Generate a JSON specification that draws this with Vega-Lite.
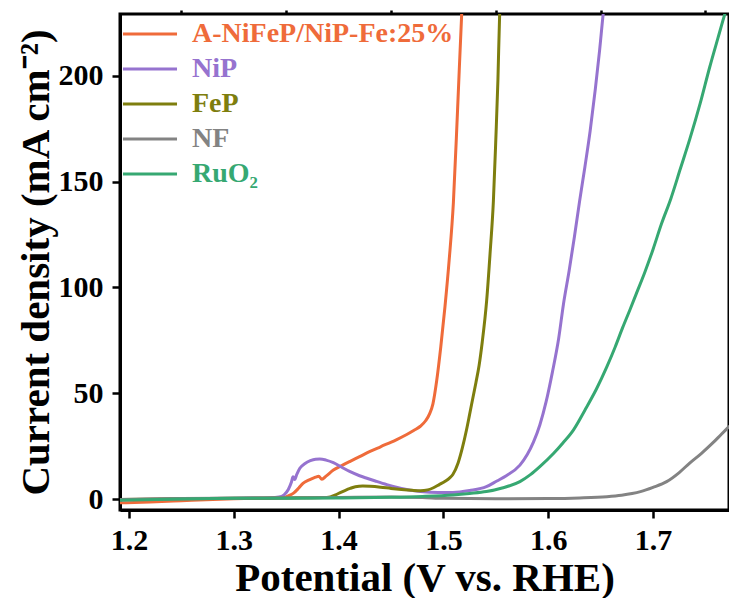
{
  "$schema": "https://vega.github.io/schema/vega-lite/v6.json",
  "width": 609,
  "height": 496,
  "autosize": "none",
  "padding": {"left": 120, "top": 14, "right": 0, "bottom": 88},
  "background": "white",
  "config": {
    "view": {"stroke": "black", "strokeWidth": 3},
    "font": "Liberation Serif"
  },
  "data": {
    "values": [
      {"sample": "A-NiFeP/NiP-Fe:25%", "V": 1.191, "J": -1.8},
      {"sample": "A-NiFeP/NiP-Fe:25%", "V": 1.22, "J": -1.4},
      {"sample": "A-NiFeP/NiP-Fe:25%", "V": 1.25, "J": -0.8},
      {"sample": "A-NiFeP/NiP-Fe:25%", "V": 1.28, "J": -0.2},
      {"sample": "A-NiFeP/NiP-Fe:25%", "V": 1.30, "J": 0.1},
      {"sample": "A-NiFeP/NiP-Fe:25%", "V": 1.32, "J": 0.3},
      {"sample": "A-NiFeP/NiP-Fe:25%", "V": 1.34, "J": 0.5},
      {"sample": "A-NiFeP/NiP-Fe:25%", "V": 1.348, "J": 0.7},
      {"sample": "A-NiFeP/NiP-Fe:25%", "V": 1.352, "J": 1.5},
      {"sample": "A-NiFeP/NiP-Fe:25%", "V": 1.357, "J": 2.8},
      {"sample": "A-NiFeP/NiP-Fe:25%", "V": 1.362, "J": 5.2},
      {"sample": "A-NiFeP/NiP-Fe:25%", "V": 1.366, "J": 7.4},
      {"sample": "A-NiFeP/NiP-Fe:25%", "V": 1.372, "J": 9.0},
      {"sample": "A-NiFeP/NiP-Fe:25%", "V": 1.378, "J": 10.3},
      {"sample": "A-NiFeP/NiP-Fe:25%", "V": 1.381, "J": 10.8},
      {"sample": "A-NiFeP/NiP-Fe:25%", "V": 1.384, "J": 9.3},
      {"sample": "A-NiFeP/NiP-Fe:25%", "V": 1.388, "J": 10.8},
      {"sample": "A-NiFeP/NiP-Fe:25%", "V": 1.395, "J": 13.7},
      {"sample": "A-NiFeP/NiP-Fe:25%", "V": 1.403, "J": 15.8},
      {"sample": "A-NiFeP/NiP-Fe:25%", "V": 1.411, "J": 17.8},
      {"sample": "A-NiFeP/NiP-Fe:25%", "V": 1.42, "J": 20.0},
      {"sample": "A-NiFeP/NiP-Fe:25%", "V": 1.43, "J": 22.5},
      {"sample": "A-NiFeP/NiP-Fe:25%", "V": 1.44, "J": 24.7},
      {"sample": "A-NiFeP/NiP-Fe:25%", "V": 1.455, "J": 28.0},
      {"sample": "A-NiFeP/NiP-Fe:25%", "V": 1.465, "J": 30.5},
      {"sample": "A-NiFeP/NiP-Fe:25%", "V": 1.472, "J": 32.5},
      {"sample": "A-NiFeP/NiP-Fe:25%", "V": 1.478, "J": 34.4},
      {"sample": "A-NiFeP/NiP-Fe:25%", "V": 1.483, "J": 37.0},
      {"sample": "A-NiFeP/NiP-Fe:25%", "V": 1.487, "J": 40.5},
      {"sample": "A-NiFeP/NiP-Fe:25%", "V": 1.490, "J": 45.0},
      {"sample": "A-NiFeP/NiP-Fe:25%", "V": 1.4936, "J": 56.0},
      {"sample": "A-NiFeP/NiP-Fe:25%", "V": 1.4975, "J": 72.0},
      {"sample": "A-NiFeP/NiP-Fe:25%", "V": 1.5015, "J": 91.0},
      {"sample": "A-NiFeP/NiP-Fe:25%", "V": 1.5055, "J": 113.0},
      {"sample": "A-NiFeP/NiP-Fe:25%", "V": 1.5095, "J": 140.0},
      {"sample": "A-NiFeP/NiP-Fe:25%", "V": 1.5135, "J": 184.0},
      {"sample": "A-NiFeP/NiP-Fe:25%", "V": 1.5175, "J": 230.0},
      {"sample": "A-NiFeP/NiP-Fe:25%", "V": 1.519, "J": 245.0},

      {"sample": "NiP", "V": 1.191, "J": -0.3},
      {"sample": "NiP", "V": 1.25, "J": 0.1},
      {"sample": "NiP", "V": 1.30, "J": 0.4},
      {"sample": "NiP", "V": 1.335, "J": 0.6},
      {"sample": "NiP", "V": 1.343, "J": 0.9},
      {"sample": "NiP", "V": 1.348, "J": 2.0},
      {"sample": "NiP", "V": 1.352, "J": 4.5},
      {"sample": "NiP", "V": 1.355, "J": 8.0},
      {"sample": "NiP", "V": 1.3565, "J": 10.5},
      {"sample": "NiP", "V": 1.358, "J": 9.2},
      {"sample": "NiP", "V": 1.360, "J": 11.5},
      {"sample": "NiP", "V": 1.363, "J": 14.5},
      {"sample": "NiP", "V": 1.368, "J": 16.8},
      {"sample": "NiP", "V": 1.373, "J": 18.1},
      {"sample": "NiP", "V": 1.378, "J": 18.8},
      {"sample": "NiP", "V": 1.382, "J": 18.9},
      {"sample": "NiP", "V": 1.388, "J": 18.4},
      {"sample": "NiP", "V": 1.395, "J": 17.2},
      {"sample": "NiP", "V": 1.403, "J": 15.0},
      {"sample": "NiP", "V": 1.411, "J": 12.9},
      {"sample": "NiP", "V": 1.42, "J": 11.0},
      {"sample": "NiP", "V": 1.427, "J": 9.8},
      {"sample": "NiP", "V": 1.435, "J": 8.5},
      {"sample": "NiP", "V": 1.446, "J": 6.8},
      {"sample": "NiP", "V": 1.46, "J": 5.0},
      {"sample": "NiP", "V": 1.478, "J": 3.6},
      {"sample": "NiP", "V": 1.495, "J": 3.1},
      {"sample": "NiP", "V": 1.509, "J": 3.1},
      {"sample": "NiP", "V": 1.525, "J": 4.0},
      {"sample": "NiP", "V": 1.541, "J": 5.8},
      {"sample": "NiP", "V": 1.551, "J": 8.5},
      {"sample": "NiP", "V": 1.56, "J": 11.0},
      {"sample": "NiP", "V": 1.573, "J": 16.0},
      {"sample": "NiP", "V": 1.58, "J": 21.0},
      {"sample": "NiP", "V": 1.586, "J": 27.0},
      {"sample": "NiP", "V": 1.592, "J": 35.0},
      {"sample": "NiP", "V": 1.598, "J": 46.0},
      {"sample": "NiP", "V": 1.604, "J": 60.0},
      {"sample": "NiP", "V": 1.61, "J": 76.0},
      {"sample": "NiP", "V": 1.6145, "J": 92.0},
      {"sample": "NiP", "V": 1.62, "J": 108.0},
      {"sample": "NiP", "V": 1.625, "J": 124.0},
      {"sample": "NiP", "V": 1.63, "J": 141.0},
      {"sample": "NiP", "V": 1.635, "J": 157.0},
      {"sample": "NiP", "V": 1.64, "J": 174.0},
      {"sample": "NiP", "V": 1.645, "J": 194.0},
      {"sample": "NiP", "V": 1.649, "J": 212.0},
      {"sample": "NiP", "V": 1.6526, "J": 230.0},
      {"sample": "NiP", "V": 1.655, "J": 240.0},

      {"sample": "FeP", "V": 1.191, "J": -0.3},
      {"sample": "FeP", "V": 1.25, "J": 0.1},
      {"sample": "FeP", "V": 1.30, "J": 0.3},
      {"sample": "FeP", "V": 1.35, "J": 0.5},
      {"sample": "FeP", "V": 1.385, "J": 0.7},
      {"sample": "FeP", "V": 1.392, "J": 1.0},
      {"sample": "FeP", "V": 1.397, "J": 1.9},
      {"sample": "FeP", "V": 1.401, "J": 2.9},
      {"sample": "FeP", "V": 1.406, "J": 4.0},
      {"sample": "FeP", "V": 1.411, "J": 5.0},
      {"sample": "FeP", "V": 1.416, "J": 5.8},
      {"sample": "FeP", "V": 1.423, "J": 6.1},
      {"sample": "FeP", "V": 1.43, "J": 6.0},
      {"sample": "FeP", "V": 1.44, "J": 5.6},
      {"sample": "FeP", "V": 1.45, "J": 5.0},
      {"sample": "FeP", "V": 1.46, "J": 4.5},
      {"sample": "FeP", "V": 1.47, "J": 4.1},
      {"sample": "FeP", "V": 1.478, "J": 3.9},
      {"sample": "FeP", "V": 1.485, "J": 4.3},
      {"sample": "FeP", "V": 1.49, "J": 5.2},
      {"sample": "FeP", "V": 1.496, "J": 6.8},
      {"sample": "FeP", "V": 1.502, "J": 8.5},
      {"sample": "FeP", "V": 1.506, "J": 10.0},
      {"sample": "FeP", "V": 1.509, "J": 11.6},
      {"sample": "FeP", "V": 1.514, "J": 17.0},
      {"sample": "FeP", "V": 1.518, "J": 24.0},
      {"sample": "FeP", "V": 1.522, "J": 32.6},
      {"sample": "FeP", "V": 1.525, "J": 40.0},
      {"sample": "FeP", "V": 1.528, "J": 47.5},
      {"sample": "FeP", "V": 1.531, "J": 55.0},
      {"sample": "FeP", "V": 1.534, "J": 63.0},
      {"sample": "FeP", "V": 1.537, "J": 74.0},
      {"sample": "FeP", "V": 1.5413, "J": 94.0},
      {"sample": "FeP", "V": 1.5445, "J": 116.0},
      {"sample": "FeP", "V": 1.5477, "J": 141.0},
      {"sample": "FeP", "V": 1.550, "J": 170.0},
      {"sample": "FeP", "V": 1.552, "J": 198.0},
      {"sample": "FeP", "V": 1.5537, "J": 230.0},
      {"sample": "FeP", "V": 1.555, "J": 240.0},

      {"sample": "NF", "V": 1.191, "J": -0.2},
      {"sample": "NF", "V": 1.25, "J": 0.2},
      {"sample": "NF", "V": 1.30, "J": 0.4},
      {"sample": "NF", "V": 1.35, "J": 0.5},
      {"sample": "NF", "V": 1.40, "J": 0.7},
      {"sample": "NF", "V": 1.45, "J": 0.9},
      {"sample": "NF", "V": 1.48, "J": 0.7},
      {"sample": "NF", "V": 1.50, "J": 0.3},
      {"sample": "NF", "V": 1.55, "J": 0.1},
      {"sample": "NF", "V": 1.60, "J": 0.2},
      {"sample": "NF", "V": 1.63, "J": 0.5},
      {"sample": "NF", "V": 1.656, "J": 1.1},
      {"sample": "NF", "V": 1.67, "J": 1.8},
      {"sample": "NF", "V": 1.68, "J": 2.6},
      {"sample": "NF", "V": 1.688, "J": 3.5},
      {"sample": "NF", "V": 1.70, "J": 5.5},
      {"sample": "NF", "V": 1.713, "J": 8.2},
      {"sample": "NF", "V": 1.725, "J": 12.5},
      {"sample": "NF", "V": 1.735, "J": 17.0},
      {"sample": "NF", "V": 1.746, "J": 21.5},
      {"sample": "NF", "V": 1.757, "J": 26.5},
      {"sample": "NF", "V": 1.765, "J": 30.5},
      {"sample": "NF", "V": 1.773, "J": 34.5},

      {"sample": "RuO₂", "V": 1.191, "J": -0.6},
      {"sample": "RuO₂", "V": 1.25, "J": 0.0},
      {"sample": "RuO₂", "V": 1.30, "J": 0.3},
      {"sample": "RuO₂", "V": 1.35, "J": 0.4},
      {"sample": "RuO₂", "V": 1.40, "J": 0.5},
      {"sample": "RuO₂", "V": 1.45, "J": 0.8},
      {"sample": "RuO₂", "V": 1.48, "J": 1.2},
      {"sample": "RuO₂", "V": 1.509, "J": 1.9},
      {"sample": "RuO₂", "V": 1.525, "J": 2.6},
      {"sample": "RuO₂", "V": 1.541, "J": 3.5},
      {"sample": "RuO₂", "V": 1.556, "J": 5.2},
      {"sample": "RuO₂", "V": 1.573, "J": 8.2},
      {"sample": "RuO₂", "V": 1.583, "J": 11.5},
      {"sample": "RuO₂", "V": 1.592, "J": 15.3},
      {"sample": "RuO₂", "V": 1.605, "J": 21.5},
      {"sample": "RuO₂", "V": 1.614, "J": 26.5},
      {"sample": "RuO₂", "V": 1.624, "J": 32.6},
      {"sample": "RuO₂", "V": 1.635, "J": 42.0},
      {"sample": "RuO₂", "V": 1.646, "J": 52.0},
      {"sample": "RuO₂", "V": 1.656, "J": 62.6},
      {"sample": "RuO₂", "V": 1.664, "J": 72.0},
      {"sample": "RuO₂", "V": 1.671, "J": 81.0},
      {"sample": "RuO₂", "V": 1.678, "J": 89.5},
      {"sample": "RuO₂", "V": 1.684, "J": 97.0},
      {"sample": "RuO₂", "V": 1.692, "J": 107.0},
      {"sample": "RuO₂", "V": 1.700, "J": 118.0},
      {"sample": "RuO₂", "V": 1.708, "J": 130.0},
      {"sample": "RuO₂", "V": 1.717, "J": 142.0},
      {"sample": "RuO₂", "V": 1.726, "J": 156.0},
      {"sample": "RuO₂", "V": 1.735, "J": 170.0},
      {"sample": "RuO₂", "V": 1.745, "J": 187.0},
      {"sample": "RuO₂", "V": 1.754, "J": 204.0},
      {"sample": "RuO₂", "V": 1.762, "J": 218.0},
      {"sample": "RuO₂", "V": 1.769, "J": 230.0},
      {"sample": "RuO₂", "V": 1.773, "J": 236.0}
    ]
  },
  "layer": [
    {
      "mark": {"type": "line", "strokeWidth": 3, "clip": true, "interpolate": "monotone"},
      "encoding": {
        "x": {
          "field": "V", "type": "quantitative",
          "scale": {"domain": [1.1914, 1.7725], "nice": false, "zero": false},
          "axis": {
            "values": [1.2, 1.3, 1.4, 1.5, 1.6, 1.7], "format": ".1f",
            "title": "Potential (V vs. RHE)", "grid": false,
            "tickSize": 8, "tickWidth": 2.5, "tickColor": "black",
            "domainWidth": 3, "domainColor": "black",
            "labelFont": "Liberation Serif", "labelFontWeight": "bold", "labelFontSize": 30,
            "labelColor": "black", "labelPadding": 7, "labelFlush": false,
            "titleFont": "Liberation Serif", "titleFontWeight": "bold", "titleFontSize": 41,
            "titleColor": "black", "titleX": 304.5, "titleY": 80, "titleBaseline": "alphabetic"
          }
        },
        "y": {
          "field": "J", "type": "quantitative",
          "scale": {"domain": [-5.2, 229.3], "nice": false, "zero": false},
          "axis": {
            "values": [0, 50, 100, 150, 200],
            "title": "Current density (mA cm⁻²)", "grid": false,
            "tickSize": 8, "tickWidth": 2.5, "tickColor": "black",
            "domainWidth": 3, "domainColor": "black",
            "labelFont": "Liberation Serif", "labelFontWeight": "bold", "labelFontSize": 30,
            "labelColor": "black", "labelPadding": 9, "labelFlush": false,
            "titleFont": "Liberation Serif", "titleFontWeight": "bold", "titleFontSize": 41,
            "titleColor": "black", "titleAngle": -90, "titleX": -72, "titleY": 248,
            "titleBaseline": "alphabetic", "titleAlign": "center"
          }
        },
        "color": {
          "field": "sample", "type": "nominal",
          "scale": {
            "domain": ["A-NiFeP/NiP-Fe:25%", "NiP", "FeP", "NF", "RuO₂"],
            "range": ["#EF6B3A", "#9673CF", "#7E7E0E", "#838383", "#36A872"]
          },
          "legend": {
            "orient": "none", "legendX": 16, "legendY": 6, "title": null,
            "symbolType": "M-2.5,0H2.5", "symbolSize": 467, "symbolStrokeWidth": 3,
            "labelFont": "Liberation Serif", "labelFontWeight": "bold", "labelFontSize": 28,
            "labelOffset": 28, "rowPadding": 7, "labelLimit": 600, "padding": 0,
            "encode": {"labels": {"update": {"fill": {"scale": "color", "field": "value"}}}}
          }
        }
      }
    },
    {
      "mark": {"type": "point", "opacity": 0},
      "encoding": {
        "x": {
          "field": "V", "type": "quantitative",
          "axis": {
            "values": [1.25, 1.35, 1.45, 1.55, 1.65, 1.75],
            "labels": false, "domain": false, "title": null, "grid": false,
            "tickSize": 4, "tickWidth": 2.5, "tickColor": "black"
          }
        },
        "y": {
          "field": "J", "type": "quantitative",
          "axis": {
            "values": [25, 75, 125, 175, 225],
            "labels": false, "domain": false, "title": null, "grid": false,
            "tickSize": 4, "tickWidth": 2.5, "tickColor": "black"
          }
        }
      }
    }
  ],
  "resolve": {"axis": {"x": "independent", "y": "independent"}}
}
